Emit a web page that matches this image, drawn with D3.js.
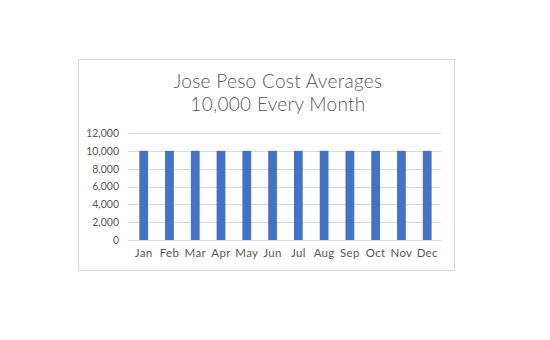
<!DOCTYPE html>
<html>
<head>
<meta charset="utf-8">
<script src="https://cdn.jsdelivr.net/npm/d3@7"></script>
<style>
  html, body { margin: 0; padding: 0; background: #fff; }
  svg { display: block; }
</style>
</head>
<body>
<svg id="chart" width="550" height="340"></svg>
<script>
// Monthly cost-averaging purchases
const months = ["Jan", "Feb", "Mar", "Apr", "May", "Jun", "Jul", "Aug", "Sep", "Oct", "Nov", "Dec"];
const amounts = [10000, 10000, 10000, 10000, 10000, 10000, 10000, 10000, 10000, 10000, 10000, 10000];
const yTicks = [0, 2000, 4000, 6000, 8000, 10000, 12000];
const titleLines = ["Jose Peso Cost Averages", "10,000 Every Month"];

const svg = d3.select("#chart");
const textColor = "#595959";
const font = "Lato, 'Open Sans', sans-serif";

// Chart frame
svg.append("rect")
  .attr("x", 78.5).attr("y", 59.5)
  .attr("width", 376).attr("height", 211)
  .attr("fill", "#fff").attr("stroke", "#d9d9d9").attr("stroke-width", 1);

// Title
svg.append("g").selectAll("text")
  .data(titleLines)
  .join("text")
  .attr("x", 278)
  .attr("y", (d, i) => 88 + i * 22.5)
  .attr("text-anchor", "middle")
  .attr("font-family", font)
  .attr("font-weight", 300)
  .attr("font-size", 19)
  .attr("letter-spacing", 0.3)
  .attr("fill", textColor)
  .text(d => d);

const plot = { left: 128, right: 441, top: 133, bottom: 240 };

const x = d3.scaleBand()
  .domain(months)
  .range([130.8, 440.1])
  .paddingInner(0.66)
  .paddingOuter(0.33);

const y = d3.scaleLinear()
  .domain([0, 12000])
  .range([plot.bottom, plot.top]);

// Horizontal gridlines
svg.append("g").selectAll("line")
  .data(yTicks)
  .join("line")
  .attr("x1", plot.left).attr("x2", plot.right)
  .attr("y1", d => Math.round(y(d)) + 0.5)
  .attr("y2", d => Math.round(y(d)) + 0.5)
  .attr("stroke", "#d9d9d9").attr("stroke-width", 1);

// Y axis labels
const yAxis = d3.axisLeft(y)
  .tickValues(yTicks)
  .tickSize(0)
  .tickPadding(0)
  .tickFormat(d3.format(","));
const gy = svg.append("g").attr("transform", "translate(119,0)").call(yAxis);
gy.select(".domain").remove();
gy.selectAll("text")
  .attr("font-family", font).attr("font-size", 10.5).attr("fill", textColor);

// Bars
svg.append("g").selectAll("rect")
  .data(months.map((m, i) => ({ m, v: amounts[i] })))
  .join("rect")
  .attr("x", d => x(d.m))
  .attr("y", d => y(d.v))
  .attr("width", x.bandwidth())
  .attr("height", d => y(0) - y(d.v))
  .attr("fill", "#4472c4");

// Baseline
svg.append("line")
  .attr("x1", plot.left).attr("x2", plot.right)
  .attr("y1", Math.round(y(0)) + 0.5).attr("y2", Math.round(y(0)) + 0.5)
  .attr("stroke", "#d9d9d9");

// X axis labels
const xAxis = d3.axisBottom(x).tickSize(0).tickPadding(0);
const gx = svg.append("g").attr("transform", "translate(0,249)").call(xAxis);
gx.select(".domain").remove();
gx.selectAll("text")
  .attr("font-family", font).attr("font-size", 11.5).attr("letter-spacing", 0.3)
  .attr("fill", textColor);
</script>
</body>
</html>
